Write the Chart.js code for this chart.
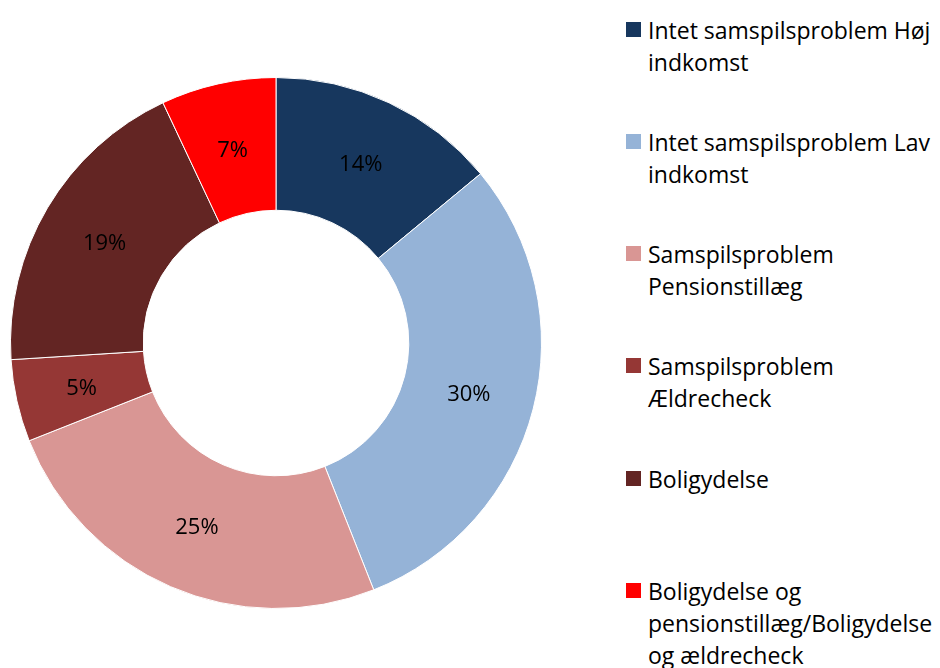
<!DOCTYPE html>
<html>
<head>
<meta charset="utf-8">
<script src="https://cdn.jsdelivr.net/npm/chart.js@4.4.1/dist/chart.umd.min.js"></script>
<style>
  html, body { margin: 0; padding: 0; background: #fff; }
  body { width: 940px; height: 668px; position: relative; overflow: hidden; font-family: "Open Sans", sans-serif; }
  #wrap { position: absolute; left: 10px; top: 77px; width: 532px; height: 532px; }
  #legend { position: absolute; left: 626px; top: 0; }
  .item { position: absolute; left: 0; white-space: nowrap; font-size: 23px; line-height: 32px; color: #000; }
  .box { position: absolute; left: 0; top: 8px; width: 15px; height: 15px; }
  .txt { position: absolute; left: 22px; top: 0; }
</style>
</head>
<body>
<div id="wrap"><canvas id="pie"></canvas></div>
<div id="legend"></div>
<script>
  // categories (legend lines as shown)
  var categories = [
    ["Intet samspilsproblem Høj", "indkomst"],
    ["Intet samspilsproblem Lav", "indkomst"],
    ["Samspilsproblem", "Pensionstillæg"],
    ["Samspilsproblem", "Ældrecheck"],
    ["Boligydelse"],
    ["Boligydelse og", "pensionstillæg/Boligydelse", "og ældrecheck"]
  ];
  var shares = [14, 30, 25, 5, 19, 7];
  var colors = ['#17375E', '#95B3D7', '#D99694', '#953735', '#632523', '#FF0000'];
  var legendTops = [14, 126, 238, 350, 463, 575];

  var pctLabels = {
    id: 'pctLabels',
    afterDatasetsDraw: function (chart) {
      var ctx = chart.ctx;
      var meta = chart.getDatasetMeta(0);
      ctx.save();
      ctx.font = '22px "Open Sans", sans-serif';
      ctx.fillStyle = '#000';
      ctx.textAlign = 'center';
      ctx.textBaseline = 'middle';
      meta.data.forEach(function (arc, i) {
        var p = arc.tooltipPosition();
        ctx.fillText(shares[i] + '%', p.x, p.y + 2);
      });
      ctx.restore();
    }
  };

  new Chart(document.getElementById('pie').getContext('2d'), {
    type: 'doughnut',
    data: {
      labels: categories,
      datasets: [{
        data: shares,
        backgroundColor: colors,
        borderColor: '#ffffff',
        borderWidth: 1
      }]
    },
    options: {
      responsive: true,
      maintainAspectRatio: false,
      animation: false,
      cutout: '50%',
      layout: { padding: 0 },
      plugins: {
        legend: { display: false },
        tooltip: { enabled: false }
      }
    },
    plugins: [pctLabels]
  });

  var legend = document.getElementById('legend');
  categories.forEach(function (lines, i) {
    var item = document.createElement('div');
    item.className = 'item';
    item.style.top = legendTops[i] + 'px';
    var box = document.createElement('div');
    box.className = 'box';
    box.style.background = colors[i];
    var txt = document.createElement('div');
    txt.className = 'txt';
    txt.innerHTML = lines.join('<br>');
    item.appendChild(box);
    item.appendChild(txt);
    legend.appendChild(item);
  });
</script>
</body>
</html>
